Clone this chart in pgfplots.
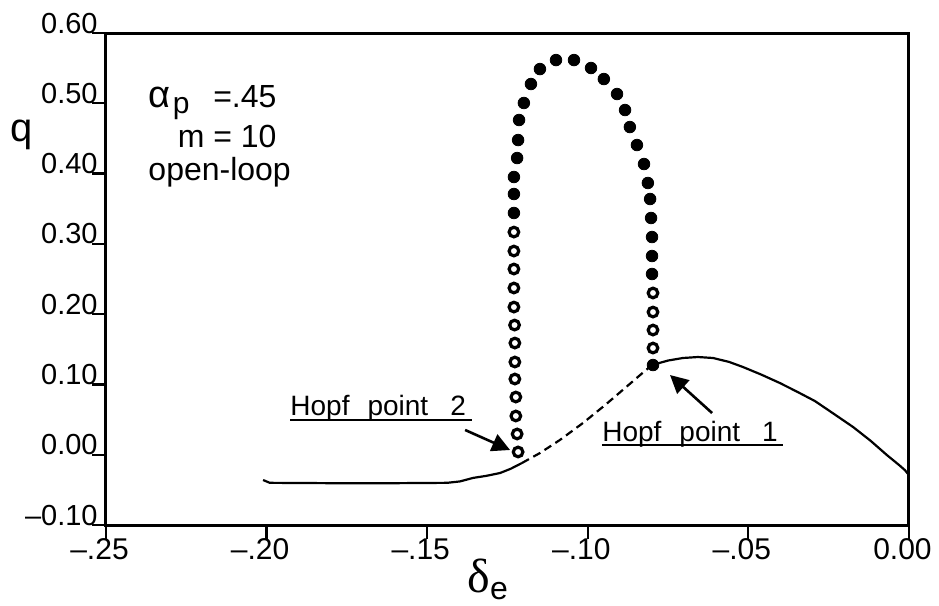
\documentclass[border=0pt]{standalone}
\usepackage{pgfplots}
\pgfplotsset{compat=1.18}
\usetikzlibrary{arrows.meta}
\usepackage{fontspec}
\setmainfont{Liberation Sans}
\newfontfamily\greekserif{Liberation Serif}

\begin{document}
\begin{tikzpicture}
\begin{axis}[
  scale only axis, width=401.5pt, height=246pt,
  at={(0,0)}, anchor=south west,
  xmin=-0.25, xmax=0, ymin=-0.1, ymax=0.6,
  axis line style={line width=1.5pt},
  xtick={-0.25,-0.2,-0.15,-0.1,-0.05,0},
  xticklabels={--.25,--.20,--.15,--.10,--.05,0.00},
  ytick={-0.1,0,0.1,0.2,0.3,0.4,0.5,0.6},
  yticklabels={--0.10,0.00,0.10,0.20,0.30,0.40,0.50,0.60},
  tick align=outside, xtick pos=bottom, ytick pos=left,
  major tick length=7pt,
  tick style={line width=1.1pt, black},
  xticklabel style={font=\fontsize{15}{15}\selectfont, anchor=north, inner sep=0pt, xshift=-3.25pt, yshift=0.5pt},
  yticklabel style={font=\fontsize{14.5}{14.5}\selectfont, anchor=base east, inner sep=0pt, xshift=3pt},
  clip=false,
]
% equilibrium branch
\addplot[black, line width=1.1pt] coordinates {
 (-0.2011,-0.036) (-0.1990,-0.040) (-0.1800,-0.0405) (-0.1600,-0.0405)
 (-0.1438,-0.040) (-0.1398,-0.038) (-0.1357,-0.033) (-0.1315,-0.030)
 (-0.1273,-0.026) (-0.1240,-0.020) (-0.1205,-0.0118)};
\addplot[black, line width=1.1pt, dash pattern=on 4pt off 2.5pt] coordinates {
 (-0.1205,-0.0118) (-0.1149,0.0024) (-0.1087,0.0209) (-0.1015,0.0451)
 (-0.0946,0.0707) (-0.0884,0.0949) (-0.0837,0.1134) (-0.0800,0.1276)};
\addplot[black, line width=1.1pt] coordinates {
 (-0.0800,0.1276) (-0.0750,0.1340) (-0.0704,0.1376) (-0.0657,0.1390)
 (-0.0610,0.1376) (-0.0560,0.1320) (-0.0517,0.1248) (-0.0460,0.1140)
 (-0.0402,0.1020) (-0.0350,0.0900) (-0.0293,0.0764) (-0.0240,0.0600)
 (-0.0174,0.0394) (-0.0120,0.0200) (-0.0069,-0.0004) (-0.0030,-0.0150)
 (-0.0013,-0.0218) (0,-0.029)};
% periodic branch: stable (filled) and unstable (open)
\addplot[only marks, mark=*, mark size=2.9pt, black] coordinates {
 (-0.1230,0.3439) (-0.1230,0.3709) (-0.1230,0.3951) (-0.1220,0.4221)
 (-0.1217,0.4477) (-0.1214,0.4762) (-0.1199,0.5004) (-0.1177,0.5274)
 (-0.1149,0.5487) (-0.1099,0.5615) (-0.1043,0.5615) (-0.0990,0.5502)
 (-0.0950,0.5345) (-0.0909,0.5132) (-0.0884,0.4904) (-0.0869,0.4662)
 (-0.0847,0.4406) (-0.0825,0.4136) (-0.0813,0.3866) (-0.0806,0.3638)
 (-0.0803,0.3368) (-0.0800,0.3097) (-0.0800,0.2827) (-0.0800,0.2571)
 (-0.0797,0.1276)};
\addplot[only marks, mark=o, mark size=2.4pt, black, mark options={line width=1.6pt}] coordinates {
 (-0.1230,0.3168) (-0.1230,0.2898) (-0.1230,0.2642) (-0.1230,0.2372)
 (-0.1230,0.2101) (-0.1228,0.1845) (-0.1227,0.1589) (-0.1227,0.1319)
 (-0.1227,0.1077) (-0.1224,0.0821) (-0.1224,0.0551) (-0.1220,0.0295)
 (-0.1217,0.0039)
 (-0.0797,0.2301) (-0.0797,0.2030) (-0.0797,0.1774) (-0.0797,0.1518)};

% parameters
\node[anchor=base west, inner sep=0pt, font=\fontsize{19}{19}\selectfont] at (axis cs:-0.2369,0.4947) {α};
\node[anchor=base west, inner sep=0pt, font=\fontsize{15}{15}\selectfont] at (axis cs:-0.2293,0.4854) {p};
\node[anchor=base east, inner sep=0pt, font=\fontsize{16}{16}\selectfont] at (axis cs:-0.1968,0.4947) {=.45};
\node[anchor=base east, inner sep=0pt, font=\fontsize{16}{16}\selectfont] at (axis cs:-0.1968,0.4378) {m = 10};
\node[anchor=base west, inner sep=0pt, font=\fontsize{16}{16}\selectfont] at (axis cs:-0.2369,0.3908) {open-loop};

% Hopf point annotations
\node[anchor=base west, inner sep=0pt, font=\fontsize{14}{14}\selectfont] at (axis cs:-0.1927,0.0551) {Hopf\hspace{9pt}point\hspace{11pt}2};
\draw[line width=1pt] (axis cs:-0.1927,0.0494) -- (axis cs:-0.1361,0.0494);
\node[anchor=base west, inner sep=0pt, font=\fontsize{14}{14}\selectfont] at (axis cs:-0.0956,0.0195) {Hopf\hspace{9pt}point\hspace{11pt}1};
\draw[line width=1pt] (axis cs:-0.0956,0.0138) -- (axis cs:-0.0392,0.0138);
\draw[line width=1.3pt, -{Triangle[length=9pt, width=9pt]}] (axis cs:-0.1382,0.0352) -- (axis cs:-0.1242,0.0067);
\draw[line width=1.3pt, -{Triangle[length=9pt, width=9pt]}] (axis cs:-0.0613,0.0593) -- (axis cs:-0.0744,0.1134);

% axis labels
\node[anchor=base, inner sep=0pt, font=\fontsize{20}{20}\selectfont] at (axis description cs:-0.1046,0.780) {q};
\node[anchor=base west, inner sep=0pt] at (axis description cs:0.4496,-0.138) {{\greekserif\fontsize{24}{24}\selectfont δ}\raisebox{-3.5pt}{\fontsize{16}{16}\selectfont e}};
\end{axis}
% fixed page frame around the axis
\pgfresetboundingbox
\path[use as bounding box] (-53pt,-40.5pt) rectangle (416.5pt,262.5pt);
\end{tikzpicture}
\end{document}
